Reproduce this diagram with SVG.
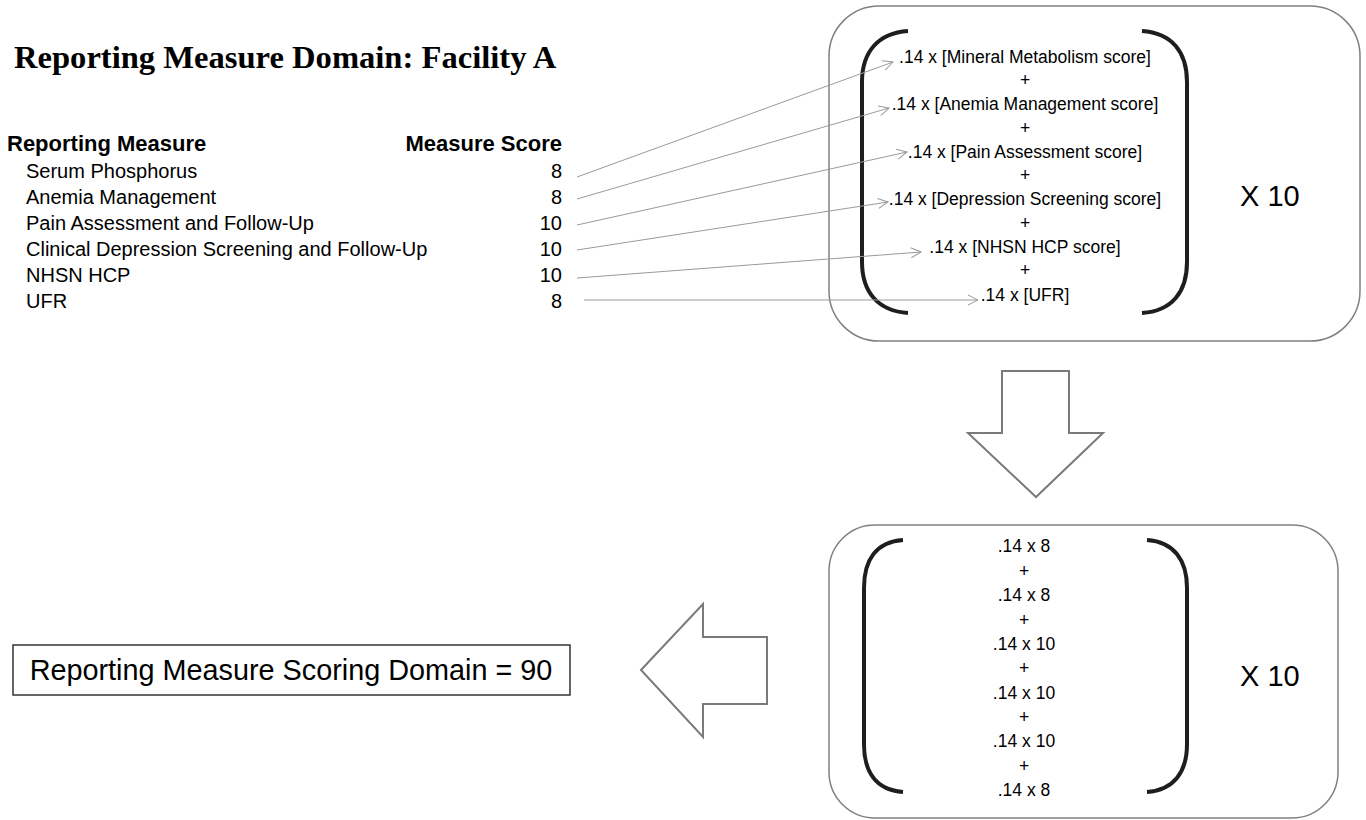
<svg xmlns="http://www.w3.org/2000/svg" width="1366" height="820" viewBox="0 0 1366 820">
<defs>
<marker id="open" viewBox="0 0 12 12" refX="11" refY="6" markerWidth="12" markerHeight="12" markerUnits="userSpaceOnUse" orient="auto">
<path d="M1,1 L11,6 L1,11" fill="none" stroke="#9a9a9a" stroke-width="1"/>
</marker>
</defs>
<style>
.t{font-family:"Liberation Sans",Arial,sans-serif;fill:#000}
.row{font-size:20px}
.hd{font-size:22px;font-weight:bold}
.f{font-size:17.5px;text-anchor:middle}
.x{font-size:29px}
.box{fill:#fff;stroke:#808080;stroke-width:1.5}
.br{fill:none;stroke:#1e1e1e;stroke-width:4;stroke-linecap:butt}
.blk{fill:#fff;stroke:#7a7a7a;stroke-width:2;stroke-linejoin:miter}
.con{fill:none;stroke:#9a9a9a;stroke-width:1;marker-end:url(#open)}
</style>
<rect width="1366" height="820" fill="#fff"/>

<g id="title">
<text x="14" y="68" style="font-family:'Liberation Serif','Times New Roman',serif;font-weight:bold;font-size:32.6px">Reporting Measure Domain: Facility A</text>
</g>

<g id="measure-table">
<text class="t hd" x="7" y="151">Reporting Measure</text>
<text class="t hd" x="562" y="151" text-anchor="end">Measure Score</text>
<text class="t row" x="26" y="178">Serum Phosphorus</text>
<text class="t row" x="26" y="204">Anemia Management</text>
<text class="t row" x="26" y="230">Pain Assessment and Follow-Up</text>
<text class="t row" x="26" y="256">Clinical Depression Screening and Follow-Up</text>
<text class="t row" x="26" y="282">NHSN HCP</text>
<text class="t row" x="26" y="308">UFR</text>
<g text-anchor="end">
<text class="t row" x="562" y="178">8</text>
<text class="t row" x="562" y="204">8</text>
<text class="t row" x="562" y="230">10</text>
<text class="t row" x="562" y="256">10</text>
<text class="t row" x="562" y="282">10</text>
<text class="t row" x="562" y="308">8</text>
</g>
</g>

<g id="formula-box">
<rect class="box" x="829" y="6" width="531" height="335" rx="50" ry="50"/>
<path class="br" d="M908,31 C878,33 862,52 862,82 L862,262 C862,292 878,311 908,313"/>
<path class="br" d="M1142,31 C1172,33 1187,52 1187,82 L1187,262 C1187,292 1172,311 1142,313"/>
<text class="t f" x="1025" y="63">.14 x [Mineral Metabolism score]</text>
<text class="t f" x="1025" y="86">+</text>
<text class="t f" x="1025" y="110">.14 x [Anemia Management score]</text>
<text class="t f" x="1025" y="134">+</text>
<text class="t f" x="1025" y="158">.14 x [Pain Assessment score]</text>
<text class="t f" x="1025" y="181">+</text>
<text class="t f" x="1025" y="205">.14 x [Depression Screening score]</text>
<text class="t f" x="1025" y="229">+</text>
<text class="t f" x="1025" y="253">.14 x [NHSN HCP score]</text>
<text class="t f" x="1025" y="276">+</text>
<text class="t f" x="1025" y="301">.14 x [UFR]</text>
<text class="t x" x="1240" y="206">X 10</text>
</g>

<g id="down-arrow">
<path class="blk" d="M1002,371 L1069,371 L1069,433 L1103,433 L1036,497 L968,433 L1002,433 Z"/>
</g>

<g id="values-box">
<rect class="box" x="829" y="525" width="509" height="293" rx="46" ry="46"/>
<path class="br" d="M903,540 C876,542 864,560 864,588 L864,744 C864,772 876,790 903,792"/>
<path class="br" d="M1147,540 C1174,542 1187,560 1187,588 L1187,744 C1187,772 1174,790 1147,792"/>
<text class="t f" x="1024" y="552">.14 x 8</text>
<text class="t f" x="1024" y="577">+</text>
<text class="t f" x="1024" y="601">.14 x 8</text>
<text class="t f" x="1024" y="626">+</text>
<text class="t f" x="1024" y="650">.14 x 10</text>
<text class="t f" x="1024" y="674">+</text>
<text class="t f" x="1024" y="699">.14 x 10</text>
<text class="t f" x="1024" y="723">+</text>
<text class="t f" x="1024" y="747">.14 x 10</text>
<text class="t f" x="1024" y="772">+</text>
<text class="t f" x="1024" y="796">.14 x 8</text>
<text class="t x" x="1240" y="686">X 10</text>
</g>

<g id="left-arrow">
<path class="blk" d="M641,670 L703,604 L703,637 L767,637 L767,704 L703,704 L703,737 Z"/>
</g>

<g id="result">
<rect x="13" y="645" width="557" height="50" fill="#fff" stroke="#333" stroke-width="1.5"/>
<text class="t" x="291" y="680" text-anchor="middle" style="font-size:28.8px">Reporting Measure Scoring Domain = 90</text>
</g>

<g id="connectors">
<line class="con" x1="577" y1="177" x2="893" y2="62"/>
<line class="con" x1="577" y1="199" x2="889" y2="108"/>
<line class="con" x1="577" y1="225" x2="907" y2="152"/>
<line class="con" x1="577" y1="250" x2="888" y2="202"/>
<line class="con" x1="577" y1="278" x2="921" y2="252"/>
<line class="con" x1="584" y1="300" x2="978" y2="300"/>
</g>
</svg>
